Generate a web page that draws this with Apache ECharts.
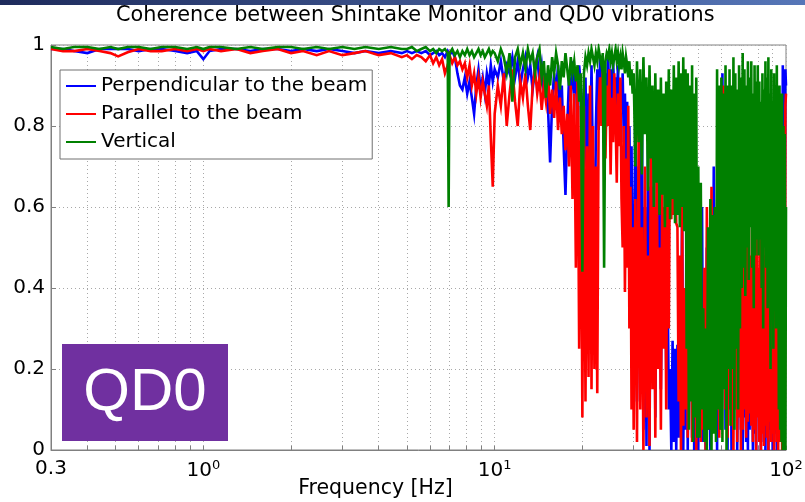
<!DOCTYPE html>
<html><head><meta charset="utf-8">
<script src="https://cdn.jsdelivr.net/npm/echarts@6/dist/echarts.min.js"></script>
<style>html,body{margin:0;padding:0;background:#fff}#c{width:805px;height:502px}</style>
</head><body><div id="c"></div>
<script>
const chartTitle = 'Coherence between Shintake Monitor and QD0 vibrations';
const xAxisName = 'Frequency [Hz]';
const seriesNames = ['Perpendicular to the beam', 'Parallel to the beam', 'Vertical'];
const badgeText = 'QD0';

// frequency bins [Hz]
const freq = [
  0.3, 0.33, 0.36, 0.4, 0.44, 0.48, 0.51, 0.55, 0.6, 0.66, 0.72, 0.8, 0.88, 0.95, 1.0, 1.05, 1.15, 1.3, 1.45, 1.6, 1.8, 2.0, 2.2, 2.45, 2.7, 3.0, 3.3, 3.6, 4.0, 4.4, 4.8,
  5.0, 5.2, 5.4, 5.6, 5.8, 6.0, 6.15, 6.3, 6.45, 6.6, 6.75, 6.9, 6.95, 7.0, 7.15, 7.3, 7.45, 7.6, 7.75, 7.9, 8.05, 8.2, 8.35, 8.5, 8.65, 8.8, 8.95, 9.1, 9.25, 9.4, 9.55, 9.7, 9.85,
  10, 10.25, 10.5, 10.75, 11, 11.25, 11.5, 11.75, 12, 12.25, 12.5, 12.75, 13, 13.25, 13.5, 13.75, 14, 14.25, 14.5, 14.75, 15, 15.25, 15.5, 15.75, 16, 16.25, 16.5, 16.75, 17, 17.25, 17.5, 17.75, 18, 18.25, 18.5, 18.75, 19, 19.25, 19.5, 19.75,
  20, 20.25, 20.5, 20.75, 21, 21.25, 21.5, 21.75, 22, 22.25, 22.5, 22.75, 23, 23.25, 23.5, 23.75, 24, 24.25, 24.5, 24.75, 25, 25.25, 25.5, 25.75, 26, 26.25, 26.5, 26.75, 27, 27.25, 27.5, 27.75, 28, 28.25, 28.5, 28.75, 29, 29.25, 29.5, 29.75,
  30, 30.4, 30.8, 31.2, 31.6, 32, 32.4, 32.8, 33.2, 33.6,
  34, 34.4, 34.8, 35.2, 35.6, 36, 36.4, 36.8, 37.2, 37.6,
  38, 38.4, 38.8, 39.2, 39.6, 40, 40.4, 40.8, 41.2, 41.6,
  42, 42.4, 42.8, 43.2, 43.6, 44, 44.4, 44.8, 45.2, 45.6,
  46, 46.4, 46.8, 47.2, 47.6, 48, 48.4, 48.8, 49.2, 49.6,
  50, 50.5, 51, 51.5, 52, 52.5, 53, 53.5, 54, 54.5,
  55, 55.5, 56, 56.5, 57, 57.5, 58, 58.5, 59, 59.5,
  60, 60.5, 61, 61.5, 62, 62.5, 63, 63.5, 64, 64.5,
  65, 65.5, 66, 66.5, 67, 67.5, 68, 68.5, 69, 69.5,
  70, 70.5, 71, 71.5, 72, 72.5, 73, 73.5, 74, 74.5,
  75, 75.5, 76, 76.5, 77, 77.5, 78, 78.5, 79, 79.5,
  80, 80.5, 81, 81.5, 82, 82.5, 83, 83.5, 84, 84.5,
  85, 85.5, 86, 86.5, 87, 87.5, 88, 88.5, 89, 89.5,
  90, 90.5, 91, 91.5, 92, 92.5, 93, 93.5, 94, 94.5,
  95, 95.5, 96, 96.5, 97, 97.5, 98, 98.5, 99, 99.5,
  100
];

// Perpendicular to the beam (blue)
const perp = [
  0.99, 0.99, 0.985, 0.98, 0.99, 0.99, 0.99, 0.99, 0.985, 0.99, 0.99, 0.985, 0.98, 0.985, 0.965, 0.985, 0.99, 0.99, 0.985, 0.99, 0.99, 0.985, 0.99, 0.985, 0.99, 0.985, 0.98, 0.985, 0.98, 0.985, 0.98,
  0.985, 0.98, 0.985, 0.98, 0.985, 0.975, 0.98, 0.985, 0.975, 0.98, 0.97, 0.985, 0.98, 0.975, 0.985, 0.97, 0.93, 0.90, 0.89, 0.92, 0.88, 0.91, 0.87, 0.83, 0.90, 0.94, 0.89, 0.92, 0.88, 0.93, 0.90, 0.95, 0.91,
  0.94, 0.92, 0.96, 0.91, 0.95, 0.93, 0.97, 0.92, 0.96, 0.90, 0.94, 0.97, 0.92, 0.95, 0.89, 0.94, 0.97, 0.91, 0.95, 0.88, 0.93, 0.84, 0.71, 0.86, 0.93, 0.88, 0.95, 0.82, 0.90, 0.75, 0.63, 0.80, 0.92, 0.86, 0.96, 0.88, 0.93, 0.78, 0.95, 0.90,
  0.85, 0.70, 0.92, 0.66, 0.88, 0.72, 0.95, 0.68, 0.30, 0.80, 0.94, 0.79, 0.97, 0.90, 0.95, 0.86, 0.93, 0.84, 0.97, 0.89, 0.94, 0.82, 0.96, 0.88, 0.92, 0.85, 0.95, 0.78, 0.90, 0.84, 0.93, 0.76, 0.88, 0.70, 0.86, 0.62, 0.80, 0.55, 0.75, 0.40,
  0.30, 0.85, 0.12, 0.70, 0.25, 0.90, 0.05, 0.60, 0.01, 0.75,
  0.00, 0.65, 0.20, 0.80, 0.08, 0.55, 0.30, 0.70, 0.15, 0.50,
  0.35, 0.60, 0.20, 0.45, 0.10, 0.20, 0.00, 0.27, 0.02, 0.25,
  0.00, 0.26, 0.03, 0.45, 0.10, 0.60, 0.00, 0.35, 0.05, 0.70,
  0.00, 0.40, 0.15, 0.65, 0.03, 0.50, 0.00, 0.45, 0.10, 0.60,
  0.00, 0.45, 0.10, 0.60, 0.02, 0.30, 0.00, 0.50, 0.05, 0.40,
  0.00, 0.55, 0.10, 0.70, 0.05, 0.45, 0.00, 0.60, 0.10, 0.50,
  0.30, 0.93, 0.20, 0.60, 0.05, 0.45, 0.00, 0.35, 0.10, 0.50,
  0.00, 0.30, 0.05, 0.55, 0.15, 0.40, 0.00, 0.25, 0.10, 0.45,
  0.05, 0.30, 0.00, 0.20, 0.08, 0.35, 0.02, 0.25, 0.00, 0.40,
  0.05, 0.30, 0.10, 0.22, 0.00, 0.35, 0.04, 0.28, 0.00, 0.45,
  0.10, 0.30, 0.05, 0.25, 0.00, 0.40, 0.08, 0.30, 0.02, 0.35,
  0.00, 0.28, 0.06, 0.40, 0.00, 0.22, 0.05, 0.35, 0.10, 0.30,
  0.00, 0.25, 0.04, 0.45, 0.08, 0.30, 0.00, 0.40, 0.10, 0.55,
  0.15, 0.70, 0.30, 0.85, 0.40, 0.95, 0.50, 0.93, 0.60, 0.94,
  0.90
];

// Parallel to the beam (red)
const para = [
  0.99, 0.985, 0.985, 0.99, 0.985, 0.98, 0.972, 0.982, 0.99, 0.985, 0.985, 0.99, 0.985, 0.99, 0.985, 0.99, 0.985, 0.99, 0.98, 0.985, 0.99, 0.98, 0.985, 0.975, 0.985, 0.975, 0.98, 0.985, 0.975, 0.98, 0.97,
  0.975, 0.965, 0.975, 0.97, 0.96, 0.975, 0.955, 0.97, 0.95, 0.965, 0.93, 0.95, 0.96, 0.975, 0.955, 0.97, 0.95, 0.96, 0.94, 0.955, 0.92, 0.95, 0.90, 0.93, 0.88, 0.92, 0.87, 0.91, 0.88, 0.85, 0.90, 0.77, 0.65,
  0.83, 0.90, 0.85, 0.93, 0.80, 0.88, 0.94, 0.86, 0.80, 0.91, 0.87, 0.93, 0.85, 0.79, 0.90, 0.94, 0.88, 0.92, 0.84, 0.90, 0.86, 0.93, 0.83, 0.89, 0.82, 0.91, 0.79, 0.87, 0.78, 0.85, 0.74, 0.83, 0.70, 0.90, 0.62, 0.88, 0.45, 0.92, 0.25, 0.85,
  0.08, 0.85, 0.12, 0.75, 0.18, 0.90, 0.15, 0.80, 0.20, 0.70, 0.14, 0.85, 0.92, 0.80, 0.95, 0.88, 0.72, 0.90, 0.80, 0.94, 0.68, 0.87, 0.76, 0.93, 0.82, 0.66, 0.88, 0.75, 0.92, 0.62, 0.50, 0.80, 0.39, 0.72, 0.45, 0.85, 0.30, 0.65, 0.10, 0.55,
  0.05, 0.62, 0.02, 0.80, 0.10, 0.55, 0.00, 0.70, 0.08, 0.48,
  0.01, 0.85, 0.15, 0.60, 0.03, 0.72, 0.20, 0.50, 0.05, 0.65,
  0.25, 0.60, 0.10, 0.75, 0.30, 0.78, 0.57, 0.85, 0.58, 0.82,
  0.56, 0.55, 0.12, 0.48, 0.00, 0.60, 0.06, 0.40, 0.10, 0.55,
  0.03, 0.35, 0.15, 0.50, 0.02, 0.45, 0.08, 0.40, 0.00, 0.50,
  0.10, 0.55, 0.02, 0.30, 0.05, 0.45, 0.00, 0.60, 0.08, 0.50,
  0.12, 0.65, 0.20, 0.45, 0.05, 0.55, 0.10, 0.50, 0.03, 0.40,
  0.05, 0.35, 0.90, 0.40, 0.10, 0.55, 0.03, 0.40, 0.15, 0.30,
  0.06, 0.48, 0.00, 0.55, 0.10, 0.62, 0.02, 0.58, 0.08, 0.50,
  0.00, 0.60, 0.05, 0.55, 0.10, 0.45, 0.03, 0.52, 0.07, 0.58,
  0.09, 0.48, 0.06, 0.55, 0.02, 0.60, 0.05, 0.50, 0.00, 0.57,
  0.08, 0.45, 0.02, 0.62, 0.00, 0.50, 0.04, 0.55, 0.01, 0.48,
  0.06, 0.58, 0.03, 0.52, 0.00, 0.60, 0.07, 0.45, 0.02, 0.55,
  0.04, 0.62, 0.00, 0.50, 0.05, 0.58, 0.02, 0.48, 0.00, 0.40,
  0.05, 0.60, 0.02, 0.55, 0.00, 0.45, 0.04, 0.50, 0.10, 0.85,
  0.88
];

// Vertical (green)
const vert = [
  0.995, 0.99, 0.995, 0.995, 0.99, 0.995, 0.99, 0.995, 0.995, 0.99, 0.995, 0.995, 0.99, 0.995, 0.99, 0.995, 0.995, 0.99, 0.995, 0.99, 0.995, 0.995, 0.99, 0.995, 0.99, 0.995, 0.99, 0.995, 0.99, 0.995, 0.99,
  0.99, 0.995, 0.985, 0.99, 0.995, 0.985, 0.99, 0.98, 0.99, 0.985, 0.99, 0.98, 0.60, 0.98, 0.99, 0.975, 0.985, 0.97, 0.985, 0.975, 0.99, 0.975, 0.985, 0.97, 0.98, 0.99, 0.975, 0.985, 0.97, 0.98, 0.99, 0.975, 0.985,
  0.98, 0.96, 0.99, 0.97, 0.93, 0.98, 0.86, 0.97, 0.99, 0.95, 0.98, 0.94, 0.99, 0.96, 0.98, 0.93, 0.97, 0.99, 0.92, 0.96, 0.87, 0.95, 0.90, 0.97, 0.93, 0.98, 0.95, 0.89, 0.96, 0.92, 0.98, 0.94, 0.90, 0.97, 0.93, 0.96, 0.91, 0.95, 0.86, 0.93,
  0.44, 0.93, 0.97, 0.95, 0.98, 0.96, 0.99, 0.97, 0.95, 0.98, 0.96, 0.99, 0.97, 0.95, 0.98, 0.45, 0.96, 0.98, 0.97, 0.99, 0.96, 0.98, 0.95, 0.97, 0.99, 0.96, 0.98, 0.95, 0.97, 0.94, 0.98, 0.96, 0.93, 0.97, 0.95, 0.92, 0.96, 0.90, 0.94, 0.88,
  0.93, 0.70, 0.96, 0.76, 0.94, 0.68, 0.97, 0.78, 0.92, 0.64,
  0.95, 0.72, 0.90, 0.60, 0.93, 0.66, 0.89, 0.58, 0.92, 0.63,
  0.88, 0.55, 0.91, 0.60, 0.94, 0.57, 0.89, 0.62, 0.95, 0.56,
  0.92, 0.58, 0.96, 0.55, 0.93, 0.60, 0.97, 0.54, 0.94, 0.25,
  0.93, 0.05, 0.90, 0.12, 0.95, 0.02, 0.88, 0.08, 0.92, 0.03,
  0.70, 0.03, 0.66, 0.10, 0.35, 0.02, 0.30, 0.00, 0.55, 0.05,
  0.62, 0.00, 0.58, 0.04, 0.60, 0.02, 0.94, 0.10, 0.90, 0.05,
  0.92, 0.02, 0.88, 0.15, 0.95, 0.00, 0.90, 0.20, 0.94, 0.06,
  0.90, 0.20, 0.97, 0.05, 0.93, 0.25, 0.89, 0.10, 0.95, 0.30,
  0.92, 0.40, 0.98, 0.45, 0.94, 0.38, 0.90, 0.50, 0.96, 0.42,
  0.92, 0.55, 0.96, 0.45, 0.88, 0.35, 0.95, 0.48, 0.91, 0.52,
  0.95, 0.48, 0.91, 0.52, 0.86, 0.40, 0.93, 0.30, 0.89, 0.50,
  0.96, 0.45, 0.92, 0.35, 0.97, 0.42, 0.88, 0.20, 0.94, 0.40,
  0.86, 0.25, 0.93, 0.45, 0.90, 0.30, 0.95, 0.38, 0.86, 0.10,
  0.90, 0.05, 0.85, 0.02, 0.88, 0.00, 0.80, 0.05, 0.78, 0.00,
  0.60
];

const xLabelTicks = [0.3, 1, 10, 100];
const xGridTicks = [0.3, 0.4, 0.5, 0.6, 0.7, 0.8, 0.9, 1, 2, 3, 4, 5, 6, 7, 8, 9, 10, 20, 30, 40, 50, 60, 70, 80, 90, 100];

const FONT = 'DejaVu Sans';
const colors = ['#0000ff', '#ff0000', '#008000'];
const seriesValues = [perp, para, vert];

const chart = echarts.init(document.getElementById('c'), null, {renderer: 'canvas'});
chart.setOption({
  animation: false,
  backgroundColor: '#ffffff',
  title: {
    text: chartTitle, left: 116, top: 5, padding: 0,
    textStyle: {fontFamily: FONT, fontSize: 20.8, fontWeight: 'normal', color: '#000'}
  },
  legend: {
    orient: 'vertical', left: 60, top: 70, padding: [6, 5, 7, 6], itemGap: 8,
    itemWidth: 30, itemHeight: 2, icon: 'rect',
    backgroundColor: '#fff', borderColor: '#707070', borderWidth: 1, borderRadius: 0,
    textStyle: {fontFamily: FONT, fontSize: 20, color: '#000'},
    data: seriesNames
  },
  grid: {left: 51, right: 19, top: 45, bottom: 52, outerBoundsMode: 'none', show: true, borderColor: '#808080', borderWidth: 1, backgroundColor: 'transparent'},
  xAxis: {
    type: 'log', logBase: 10, min: 0.3, max: 100,
    name: xAxisName, nameLocation: 'middle', nameGap: 28, nameMoveOverlap: false,
    nameTextStyle: {fontFamily: FONT, fontSize: 20.5, color: '#000', padding: [0, 86, 0, 0]},
    axisLine: {show: true, lineStyle: {color: '#808080', width: 1}},
    axisTick: {show: true, inside: true, length: 4, customValues: xGridTicks, lineStyle: {color: '#808080'}},
    axisLabel: {
      customValues: xLabelTicks, margin: 9, color: '#000',
      formatter: function (v) {
        if (v < 0.95) return '{b|' + Number(v.toPrecision(2)) + '}';
        return '{b|10}{s|' + Math.round(Math.log10(v)) + '}';
      },
      rich: {
        b: {fontFamily: FONT, fontSize: 20, color: '#000'},
        s: {fontFamily: FONT, fontSize: 13, color: '#000', verticalAlign: 'top', padding: [0, 0, 10, 0]}
      }
    },
    splitLine: {show: true, lineStyle: {type: [1, 3], color: '#a8a8a8', width: 1}}
  },
  yAxis: {
    type: 'value', min: 0, max: 1, interval: 0.2,
    axisLine: {show: true, lineStyle: {color: '#808080', width: 1}},
    axisTick: {show: true, inside: true, length: 5, lineStyle: {color: '#808080'}},
    axisLabel: {
      fontFamily: FONT, fontSize: 20, color: '#000', margin: 6,
      formatter: function (v) { return (v === 0 || v === 1) ? String(v) : v.toFixed(1); }
    },
    splitLine: {show: true, lineStyle: {type: [1, 3], color: '#a8a8a8', width: 1}}
  },
  series: seriesNames.map(function (name, k) {
    return {
      name: name, type: 'line', showSymbol: false, symbol: 'none',
      data: freq.map(function (f, i) { return [f, seriesValues[k][i]]; }),
      lineStyle: {width: 2.6, color: colors[k], join: 'miter'}, itemStyle: {color: colors[k]},
      emphasis: {disabled: true}, clip: true
    };
  }),
  graphic: [
    {
      type: 'rect', shape: {x: 0, y: 0, width: 805, height: 5}, z: 100,
      style: {fill: new echarts.graphic.LinearGradient(0, 0, 1, 0, [
        {offset: 0, color: '#1e2b5c'}, {offset: 1, color: '#5676b8'}
      ])}
    },
    {type: 'rect', shape: {x: 62, y: 344, width: 166, height: 97}, z: 100, style: {fill: '#7030a0'}},
    {
      type: 'text', x: 145, y: 393, z: 101,
      style: {text: badgeText, fill: '#ffffff', font: '60px "Liberation Sans"', textAlign: 'center', textVerticalAlign: 'middle'}
    }
  ]
});
</script>
</body></html>
